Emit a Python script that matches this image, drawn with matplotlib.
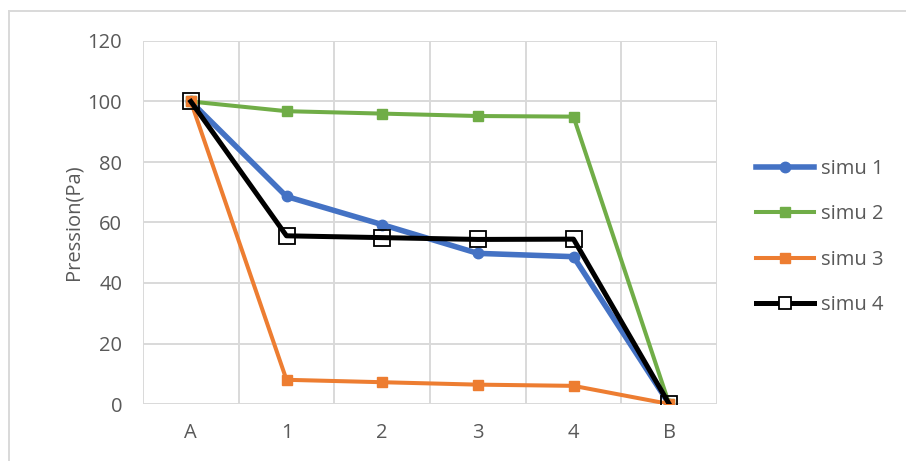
import matplotlib.pyplot as plt
from matplotlib.lines import Line2D
import numpy as np

categories = ["A", "1", "2", "3", "4", "B"]
simu_1 = [100, 68.6, 59.3, 49.8, 48.7, 0]
simu_2 = [100, 96.8, 96.0, 95.2, 95.0, 0]
simu_3 = [100, 8.0, 7.2, 6.4, 6.0, 0]
simu_4 = [100, 55.6, 55.0, 54.4, 54.5, 0]
series_names = ["simu 1", "simu 2", "simu 3", "simu 4"]
y_ticks = [0, 20, 40, 60, 80, 100, 120]

plt.rcParams['font.family'] = ['Open Sans', 'DejaVu Sans']
text_color = '#595959'
grid_color = '#d9d9d9'
fs = 14.5

fig = plt.figure(figsize=(9.06, 4.61), dpi=100)
ax = fig.add_axes([143 / 906, 1 - 404 / 461, (717 - 143) / 906, (404 - 41) / 461])

x = np.arange(len(categories))

# grid: horizontal at ticks, vertical between categories (like Excel)
for y in y_ticks:
    ax.axhline(y, color=grid_color, lw=1.4, zorder=0)
for xb in np.arange(-0.5, len(categories), 1.0):
    ax.axvline(xb, color=grid_color, lw=1.4, zorder=0)

ax.plot(x, simu_1, color='#4472C4', lw=4.0, marker='o', ms=7.5, zorder=2)
ax.plot(x, simu_2, color='#70AD47', lw=2.9, marker='s', ms=7.5, zorder=3)
ax.plot(x, simu_3, color='#ED7D31', lw=2.9, marker='s', ms=7.5, zorder=4)
ax.plot(x, simu_4, color='black', lw=3.6, marker='s', ms=12,
        mfc='none', mec='black', mew=1.3, zorder=5)

ax.set_xlim(-0.5, len(categories) - 0.5)
ax.set_ylim(0, 120)
ax.set_yticks(y_ticks)
ax.set_xticks(x)
ax.set_xticklabels(categories)
ax.tick_params(axis='both', length=0, labelsize=fs, colors=text_color)
ax.tick_params(axis='y', pad=15)
ax.tick_params(axis='x', pad=14)
for s in ax.spines.values():
    s.set_visible(False)

fig.text(73 / 906, 1 - 222 / 461, "Pression(Pa)", rotation=90, ha='center',
         va='center', fontsize=fs, color=text_color)

# legend
handles = [
    Line2D([], [], color='#4472C4', lw=4.0, marker='o', ms=7.5),
    Line2D([], [], color='#70AD47', lw=2.9, marker='s', ms=7.5),
    Line2D([], [], color='#ED7D31', lw=2.9, marker='s', ms=7.5),
    Line2D([], [], color='black', lw=3.6, marker='s', ms=8, mfc='white',
           mec='black', mew=1.3),
]
fig.legend(handles, series_names, loc='center left',
           bbox_to_anchor=(738 / 906, 1 - 237 / 461), frameon=False,
           fontsize=fs, labelcolor=text_color, labelspacing=1.25,
           handlelength=2.85, handletextpad=0.35)

# outer chart border
fig.add_artist(Line2D([9 / 906, 9 / 906], [0, 1 - 11 / 461], color=grid_color, lw=1.4))
fig.add_artist(Line2D([9 / 906, 1], [1 - 11 / 461, 1 - 11 / 461], color=grid_color, lw=1.4))

fig.savefig("out.png", dpi=100)
